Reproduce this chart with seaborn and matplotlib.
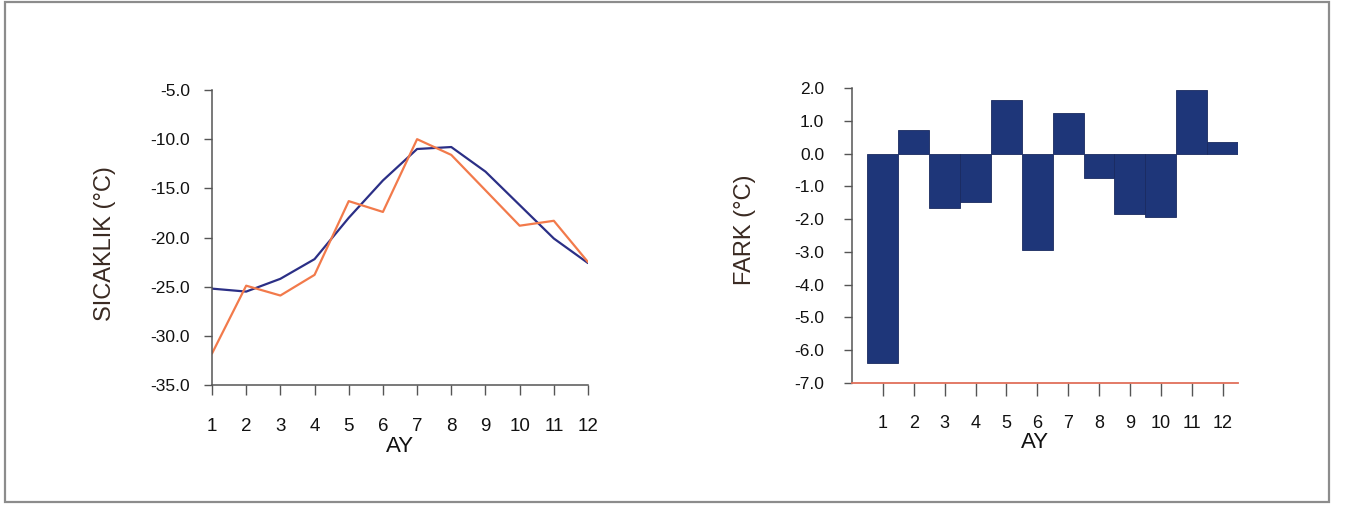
import matplotlib
matplotlib.use("Agg")
import matplotlib.pyplot as plt
import seaborn as sns
import pandas as pd
from matplotlib.patches import Rectangle

months = list(range(1, 13))
month_labels = [str(m) for m in months]
blue_series = [-25.2, -25.5, -24.2, -22.2, -18.0, -14.2, -11.0, -10.8, -13.3, -16.7, -20.1, -22.6]
orange_series = [-31.8, -24.9, -25.9, -23.8, -16.3, -17.4, -10.0, -11.6, -15.2, -18.8, -18.3, -22.5]
fark = [-6.4, 0.73, -1.65, -1.48, 1.62, -2.95, 1.24, -0.76, -1.84, -1.93, 1.95, 0.35]

left_yticks = [-35.0, -30.0, -25.0, -20.0, -15.0, -10.0, -5.0]
right_yticks = [-7.0, -6.0, -5.0, -4.0, -3.0, -2.0, -1.0, 0.0, 1.0, 2.0]

sns.set_theme(style="white")
plt.rcParams['font.family'] = ['Liberation Sans', 'DejaVu Sans']

W, H = 1345, 508
fig = plt.figure(figsize=(W / 100, H / 100), dpi=100)
fig.patch.set_facecolor("white")

def px_axes(x0, y0, x1, y1):
    return fig.add_axes([x0 / W, (H - y1) / H, (x1 - x0) / W, (y1 - y0) / H])

# ---------- left chart ----------
ax1 = px_axes(212, 90, 588, 385)
df_line = pd.DataFrame({
    "AY": months * 2,
    "val": blue_series + orange_series,
    "seri": ["blue"] * 12 + ["orange"] * 12,
})
sns.lineplot(data=df_line, x="AY", y="val", hue="seri",
             palette={"blue": "#2b2f86", "orange": "#f27a4b"},
             linewidth=1.6, ax=ax1, legend=False)
ax1.set_xlim(1, 12)
ax1.set_ylim(-35, -5)
ax1.set_xticks(months)
ax1.set_xticklabels(month_labels)
ax1.set_yticks(left_yticks)
ax1.set_yticklabels([f"{v:.1f}" for v in left_yticks])
ax1.tick_params(axis="x", bottom=True, direction="out", length=7, width=1, color="#555555",
                pad=17, labelsize=13.5, labelcolor="#111111")
ax1.tick_params(axis="y", left=True, direction="out", length=6, width=1, color="#555555",
                pad=10, labelsize=12.5, labelcolor="#111111")
ax1.set_ylabel("SICAKLIK (°C)", fontsize=17, color="#3a2a22", va="center")
ax1.yaxis.set_label_coords(-0.285, 0.48)
ax1.set_xlabel("AY", fontsize=16, color="#111111", va="center")
ax1.xaxis.set_label_coords(0.5, -0.21)
for s in ["top", "right"]:
    ax1.spines[s].set_visible(False)
for s in ["left", "bottom"]:
    ax1.spines[s].set_color("#555555")
    ax1.spines[s].set_linewidth(1.1)

# ---------- right chart ----------
ax2 = px_axes(852, 88, 1238, 383)
df_bar = pd.DataFrame({"AY": months, "FARK": fark})
sns.barplot(data=df_bar, x="AY", y="FARK", native_scale=True, width=1.0,
            color="#1e3679", saturation=1, edgecolor="#1a2a60", linewidth=0.6,
            ax=ax2)
ax2.set_xlim(0, 12.5)
ax2.set_ylim(-7, 2)
ax2.set_xticks(months)
ax2.set_xticklabels(month_labels)
ax2.set_yticks(right_yticks)
ax2.set_yticklabels([f"{v:.1f}" for v in right_yticks])
ax2.tick_params(axis="x", bottom=True, direction="out", length=9, width=1, color="#555555",
                pad=14, labelsize=13, labelcolor="#111111")
ax2.tick_params(axis="y", left=True, direction="out", length=6, width=1, color="#555555",
                pad=14, labelsize=12.5, labelcolor="#111111")
ax2.set_ylabel("FARK (°C)", fontsize=17, color="#3a2a22", va="center")
ax2.yaxis.set_label_coords(-0.277, 0.52)
ax2.set_xlabel("AY", fontsize=16, color="#111111", va="center")
ax2.xaxis.set_label_coords(0.474, -0.20)
for s in ["top", "right"]:
    ax2.spines[s].set_visible(False)
ax2.spines["left"].set_color("#555555")
ax2.spines["left"].set_linewidth(1.1)
ax2.spines["bottom"].set_color("#e0705a")
ax2.spines["bottom"].set_linewidth(1.3)

# ---------- outer frame ----------
fig.patches.append(Rectangle((5 / W, (H - 502) / H), (1329 - 5) / W, (502 - 2) / H,
                             transform=fig.transFigure, fill=False,
                             edgecolor="#8c8c8c", linewidth=1.6))

fig.savefig("out.png", dpi=100, facecolor="white")
